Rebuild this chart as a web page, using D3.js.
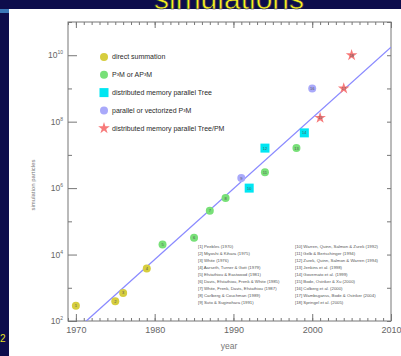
<!DOCTYPE html>
<html>
<head>
<meta charset="utf-8">
<script src="https://cdn.jsdelivr.net/npm/d3@7"></script>
<style>
  html, body { margin: 0; padding: 0; background: #0d0d4a; }
  svg { display: block; font-family: 'Liberation Sans', Arial, sans-serif; }
</style>
</head>
<body>
<svg id="chart" width="401" height="356"></svg>
<script>
// runs, one per reference [1]..[18]
const runYears = [1970, 1975, 1976, 1979, 1981, 1985, 1987, 1989, 1991, 1992, 1994, 1994, 1998, 1999, 2001, 2000, 2004, 2005]
const runParticles = [290, 390, 700, 3800, 2e4, 3.2e4, 2.1e5, 5e5, 2e6, 1e6, 3e6, 1.6e7, 1.6e7, 4.6e7, 1.3e8, 1e9, 1e9, 1e10]
const runKinds = ['ds', 'ds', 'ds', 'ds', 'p3m', 'p3m', 'p3m', 'p3m', 'pp3m', 'tree', 'p3m', 'tree', 'p3m', 'tree', 'tpm', 'pp3m', 'tpm', 'tpm']

const kinds = ['ds', 'p3m', 'tree', 'pp3m', 'tpm']
const kindLabels = ['direct summation', 'P³M or AP³M', 'distributed memory parallel Tree', 'parallel or vectorized P³M', 'distributed memory parallel Tree/PM']
const kindColors = ['#d6cd3e', '#78e078', '#00e6f2', '#a9a9fa', '#f77a7a']

const references = [
  '[1] Peebles (1970)', '[2] Miyoshi & Kihara (1975)', '[3] White (1976)',
  '[4] Aarseth, Turner & Gott (1979)', '[5] Efstathiou & Eastwood (1981)',
  '[6] Davis, Efstathiou, Frenk & White (1985)', '[7] White, Frenk, Davis, Efstathiou (1987)',
  '[8] Carlberg & Couchman (1989)', '[9] Suto & Suginohara (1991)',
  '[10] Warren, Quinn, Salmon & Zurek (1992)', '[11] Gelb & Bertschinger (1994)',
  '[12] Zurek, Quinn, Salmon & Warren (1994)', '[13] Jenkins et al. (1998)',
  '[14] Governato et al. (1999)', '[15] Bode, Ostriker & Xu (2000)',
  '[16] Colberg et al. (2000)', '[17] Wambsganss, Bode & Ostriker (2004)', '[18] Springel et al. (2005)'
]

// trend line: log10 N = fitA + fitB * (year - 1970)
const fitA = 1.72
const fitB = 0.213

const decades = [1970, 1980, 1990, 2000, 2010]
const yLabelTicks = [1e2, 1e4, 1e6, 1e8, 1e10]
const yMinorTicks = [1e3, 1e5, 1e7, 1e9, 1e11]

const svg = d3.select('#chart')

// slide background
svg.append('rect').attr('width', 401).attr('height', 356).attr('fill', '#0d0d4c')
svg.append('rect').attr('x', 0).attr('y', 9).attr('width', 9).attr('height', 4).attr('fill', '#3b78b8')
svg.append('rect').attr('x', 9).attr('y', 9).attr('width', 392).attr('height', 347).attr('fill', '#ffffff')

// slide title, cut by the top edge as on the slide
svg.append('text')
  .attr('x', 229).attr('y', 9)
  .attr('text-anchor', 'middle')
  .attr('font-size', 30)
  .attr('fill', '#f6f020')
  .attr('stroke', '#20204a').attr('stroke-width', 0.6)
  .text('simulations')

svg.append('text')
  .attr('x', 0).attr('y', 342)
  .attr('font-size', 10)
  .attr('fill', '#e8e020')
  .text('2')

const x = d3.scaleLinear().domain([1969, 2010]).range([68, 391])
const y = d3.scaleLog().domain([1e2, 1e11]).range([321, 22])

const axisColor = '#777'
const styleAxis = g => {
  g.select('.domain').remove()
  g.selectAll('line').attr('stroke', axisColor)
  g.selectAll('text').attr('fill', '#666')
}

// frame
svg.append('rect')
  .attr('x', x.range()[0]).attr('y', y.range()[1])
  .attr('width', x.range()[1] - x.range()[0])
  .attr('height', y.range()[0] - y.range()[1])
  .attr('fill', 'none').attr('stroke', axisColor)

const allYears = d3.range(1969, 2011)

// bottom
svg.append('g').attr('transform', `translate(0,${y.range()[0]})`)
  .call(d3.axisBottom(x).tickValues(allYears).tickSize(-3).tickFormat(''))
  .call(styleAxis)
svg.append('g').attr('transform', `translate(0,${y.range()[0]})`)
  .call(d3.axisBottom(x).tickValues(decades).tickSize(-7).tickPadding(6).tickFormat(d3.format('d')))
  .attr('font-size', 9).attr('font-family', null)
  .call(styleAxis)

// top
svg.append('g').attr('transform', `translate(0,${y.range()[1]})`)
  .call(d3.axisTop(x).tickValues(allYears).tickSize(-3).tickFormat(''))
  .call(styleAxis)
svg.append('g').attr('transform', `translate(0,${y.range()[1]})`)
  .call(d3.axisTop(x).tickValues(decades).tickSize(-6).tickFormat(''))
  .call(styleAxis)

// left
svg.append('g').attr('transform', `translate(${x.range()[0]},0)`)
  .call(d3.axisLeft(y).tickValues(yMinorTicks).tickSize(-4).tickFormat(''))
  .call(styleAxis)
const left = svg.append('g').attr('transform', `translate(${x.range()[0]},0)`)
  .call(d3.axisLeft(y).tickValues(yLabelTicks).tickSize(-9).tickPadding(5))
  .attr('font-size', 8.5).attr('font-family', null)
  .call(styleAxis)
left.selectAll('.tick text').text(null).each(function(d) {
  const t = d3.select(this)
  t.append('tspan').text('10')
  t.append('tspan').attr('dy', -4).attr('font-size', 5).text(Math.round(Math.log10(d)))
})

// right
svg.append('g').attr('transform', `translate(${x.range()[1]},0)`)
  .call(d3.axisRight(y).tickValues(yLabelTicks.concat(yMinorTicks)).tickSize(-4).tickFormat(''))
  .call(styleAxis)

// axis titles
svg.append('text')
  .attr('x', 229).attr('y', 349)
  .attr('text-anchor', 'middle')
  .attr('font-size', 8.5).attr('fill', '#777')
  .text('year')

svg.append('text')
  .attr('transform', 'translate(35,185) rotate(-90)')
  .attr('text-anchor', 'middle')
  .attr('font-size', 6).attr('fill', '#777')
  .text('simulation particles')

// trend line, clipped to the frame
svg.append('clipPath').attr('id', 'plot-clip')
  .append('rect')
  .attr('x', x.range()[0]).attr('y', y.range()[1])
  .attr('width', x.range()[1] - x.range()[0])
  .attr('height', y.range()[0] - y.range()[1])

const fitYears = [1969, 2010]
svg.append('path')
  .datum(fitYears)
  .attr('clip-path', 'url(#plot-clip)')
  .attr('d', d3.line().x(d => x(d)).y(d => y(Math.pow(10, fitA + fitB * (d - 1970)))))
  .attr('fill', 'none').attr('stroke', '#8a8aff').attr('stroke-width', 1.3)

// markers
const colorOf = k => kindColors[kinds.indexOf(k)]
const drawMarker = (g, kind) => {
  if(kind === 'tree') {
    g.append('rect').attr('x', -4.5).attr('y', -4.5).attr('width', 9).attr('height', 9)
      .attr('fill', colorOf(kind))
  } else if(kind === 'tpm') {
    g.append('path').attr('d', d3.symbol(d3.symbolStar, 42)())
      .attr('fill', colorOf(kind))
  } else {
    g.append('circle').attr('r', 4).attr('fill', colorOf(kind))
  }
}

runYears.forEach((yr, i) => {
  const g = svg.append('g').attr('transform', `translate(${x(yr)},${y(runParticles[i])})`)
  drawMarker(g, runKinds[i])
  g.append('text')
    .attr('text-anchor', 'middle').attr('dy', '0.35em')
    .attr('font-size', 4).attr('fill', '#555')
    .text(i + 1)
})

// legend
kinds.forEach((k, i) => {
  const ly = 57 + i * 17.8
  const g = svg.append('g').attr('transform', `translate(104,${ly})`)
  drawMarker(g, k)
  g.append('text')
    .attr('x', 8).attr('dy', '0.35em')
    .attr('font-size', 7).attr('fill', '#2a2a2a')
    .text(kindLabels[i])
})

// reference list, two columns
references.forEach((r, i) => {
  const col = i < 9 ? 0 : 1
  svg.append('text')
    .attr('x', col ? 295 : 198)
    .attr('y', 247.5 + (i % 9) * 7.1)
    .attr('font-size', 4.3).attr('fill', '#555')
    .text(r)
})
</script>
</body>
</html>
